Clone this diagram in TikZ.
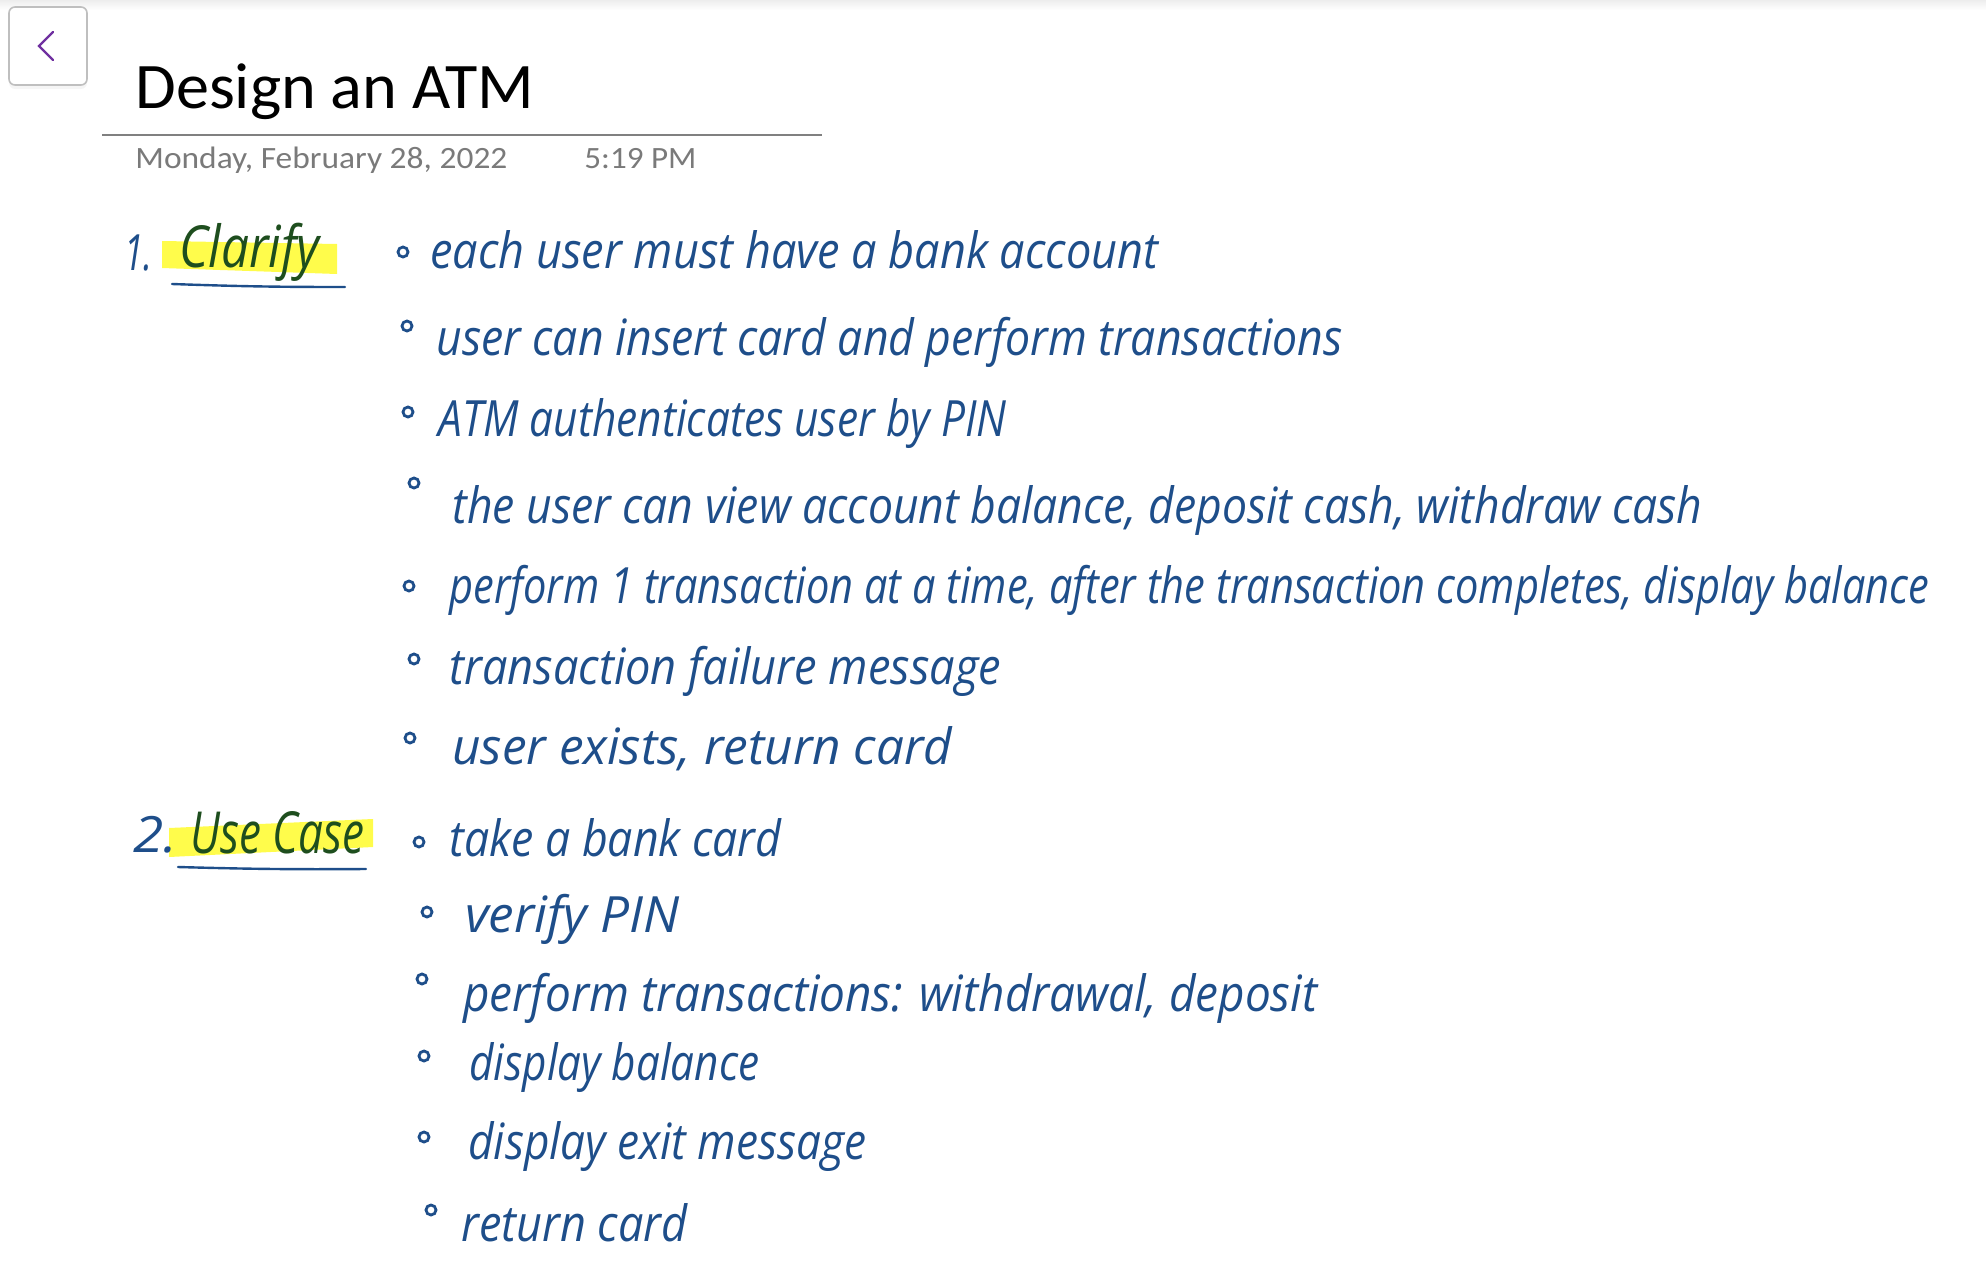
\documentclass[tikz,border=0pt]{standalone}
\usepackage{fontspec}
\usepackage{graphicx}
\usetikzlibrary{positioning,shadows}
\newfontfamily\pagefont{Carlito}
\newfontfamily\inkfont{Open Sans}
\definecolor{ink}{RGB}{30,78,138}
\definecolor{inkmark}{RGB}{30,78,30}
\definecolor{marker}{RGB}{255,252,75}
\definecolor{backmark}{RGB}{112,48,160}
\newcommand{\inkfit}[2]{\resizebox{#1pt}{\height}{#2}}
\tikzset{
  inkline/.style={anchor=base west, inner sep=0, text=ink, font=\inkfont\fontsize{25}{30}\selectfont\itshape},
  inkhead/.style={inkline, text=inkmark, font=\inkfont\fontsize{29}{30}\selectfont\itshape},
  inkdot/.style={circle, draw=ink, line width=1.4pt, inner sep=0, minimum size=5pt},
  inkrule/.style={draw=ink, line width=1.2pt, line cap=round},
  datetext/.style={anchor=base west, inner sep=0, text=black!52, font=\pagefont\fontsize{15.5}{18}\selectfont}
}
\begin{document}
\begin{tikzpicture}[x=0.5pt,y=-0.5pt]
        \useasboundingbox (0,0) rectangle (1986,1274);
        % page furniture %
        \shade[top color=black!7, bottom color=white] (0,0) rectangle (1986,10);
        \node[draw=black!25, fill=white, line width=0.8pt, rounded corners=3pt, minimum width=39pt, minimum height=39pt, inner sep=0, drop shadow={opacity=0.08, shadow xshift=0pt, shadow yshift=-2pt}] (back) at (48,46) {};
        \coordinate (backtop) at (53,32);
        \coordinate (backtip) at (39,46);
        \coordinate (backend) at (53,60);
        \draw[backmark, line width=1.1pt, line cap=round] (backtop) -- (backtip) -- (backend);
        \node[anchor=base west, inner sep=0, font=\pagefont\fontsize{32.5}{36}\selectfont] (title) at (135,108) {\resizebox{199.5pt}{\height}{Design an ATM}};
        \coordinate (ruleleft) at (102,135);
        \coordinate (ruleright) at (822,135);
        \draw[black!50, line width=0.9pt] (ruleleft) -- (ruleright);
        \node[datetext] (date) at (135,168) {\resizebox{186pt}{\height}{Monday, February 28, 2022}};
        \node[datetext] (time) at (584,168) {\resizebox{56pt}{\height}{5:19 PM}};
        % highlights %
        \fill[marker] (162,241) -- (337,244) -- (337,274) -- (162,268) -- cycle;
        \fill[marker] (169,828) -- (373,819) -- (373,847) -- (169,857) -- cycle;
        % headings %
        \node[inkline] (one) at (124,270) {\inkfit{14}{1.}};
        \node[inkhead] (clarify) at (179,267) {\inkfit{70}{Clarify}};
        \node[inkline] (two) at (133,852) {\inkfit{22}{2.}};
        \node[inkhead] (usecase) at (190,853) {\inkfit{87}{Use Case}};
        \coordinate (clarifyl) at (172,284);
        \coordinate (clarifyr) at (345,287);
        \coordinate (usecasel) at (178,867);
        \coordinate (usecaser) at (366,869);
        \draw[inkrule] (clarifyl) to[bend right=1] (clarifyr);
        \draw[inkrule] (usecasel) to[bend right=1] (usecaser);
        % clarify list %
        \node[inkdot] (d1) at (403,252) {};
        \node[inkline] (c1) at (430,268) {\inkfit{364}{each user must have a bank account}};
        \node[inkdot] (d2) at (407,326) {};
        \node[inkline] (c2) at (436,355) {\inkfit{453}{user can insert card and perform transactions}};
        \node[inkdot] (d3) at (408,412) {};
        \node[inkline] (c3) at (438,436) {\inkfit{284}{ATM authenticates user by PIN}};
        \node[inkdot] (d4) at (414,483) {};
        \node[inkline] (c4) at (452,523) {\inkfit{625}{the user can view account balance, deposit cash, withdraw cash}};
        \node[inkdot] (d5) at (409,586) {};
        \node[inkline] (c5) at (449,603) {\inkfit{740}{perform 1 transaction at a time, after the transaction completes, display balance}};
        \node[inkdot] (d6) at (414,659) {};
        \node[inkline] (c6) at (449,684) {\inkfit{276}{transaction failure message}};
        \node[inkdot] (d7) at (410,738) {};
        \node[inkline] (c7) at (452,764) {\inkfit{250}{user exists, return card}};
        % use case list %
        \node[inkdot] (u1) at (419,842) {};
        \node[inkline] (e1) at (449,856) {\inkfit{166}{take a bank card}};
        \node[inkdot] (u2) at (427,912) {};
        \node[inkline] (e2) at (465,932) {\inkfit{107}{verify PIN}};
        \node[inkdot] (u3) at (422,979) {};
        \node[inkline] (e3) at (463,1011) {\inkfit{427}{perform transactions: withdrawal, deposit}};
        \node[inkdot] (u4) at (424,1056) {};
        \node[inkline] (e4) at (469,1080) {\inkfit{145}{display balance}};
        \node[inkdot] (u5) at (424,1137) {};
        \node[inkline] (e5) at (468,1159) {\inkfit{199}{display exit message}};
        \node[inkdot] (u6) at (431,1210) {};
        \node[inkline] (e6) at (461,1241) {\inkfit{113}{return card}};
\end{tikzpicture}
\end{document}
